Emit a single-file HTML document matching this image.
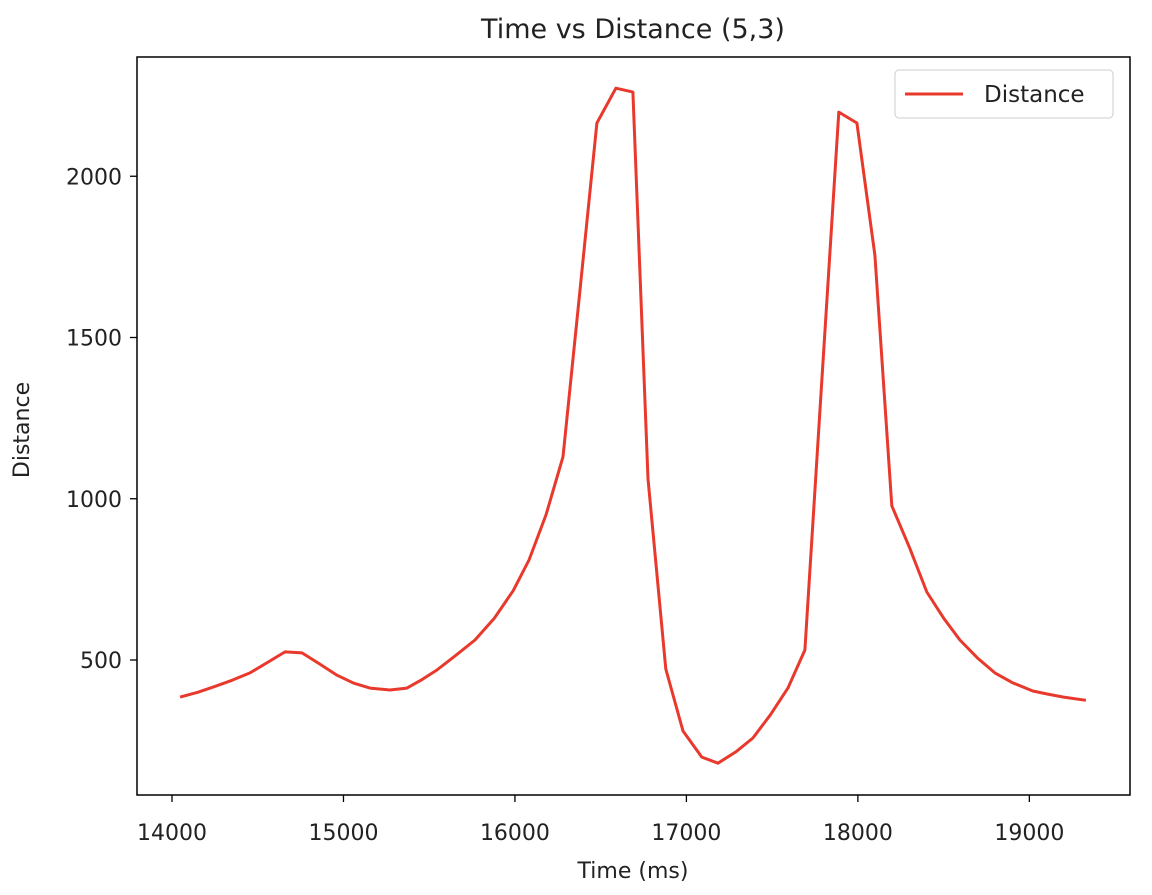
<!DOCTYPE html>
<html><head><meta charset="utf-8"><style>
body{margin:0;background:#fff;font-family:"Liberation Sans","DejaVu Sans",sans-serif;}
svg text{font-family:"DejaVu Sans","Liberation Sans",sans-serif;fill:#222;}
</style></head><body>
<svg id="chart" width="1152" height="890" xmlns="http://www.w3.org/2000/svg">
<text x="633" y="38" font-size="27" text-anchor="middle">Time vs Distance (5,3)</text>
<g id="axes"></g>
<rect x="137" y="57" width="993" height="738" fill="none" stroke="#000" stroke-width="1.5"/>
<text x="633" y="878" font-size="22" text-anchor="middle">Time (ms)</text>
<text x="29" y="430" font-size="22" text-anchor="middle" transform="rotate(-90 29 430)">Distance</text>
<g>
<rect x="895" y="70" width="218" height="48" rx="4" fill="#fff" stroke="#ccc"/>
<line x1="905" y1="94" x2="963" y2="94" stroke="#e8392c" stroke-width="3"/>
<text x="984" y="102" font-size="23">Distance</text>
</g>
</svg>
<script>
const times=[14047,14150,14250,14350,14455,14555,14659,14758,14860,14962,15060,15155,15271,15370,15460,15545,15650,15767,15880,15990,16082,16181,16280,16380,16478,16589,16688,16776,16880,16980,17090,17184,17288,17388,17490,17592,17691,17790,17889,17994,18099,18198,18300,18402,18500,18595,18700,18799,18900,19020,19100,19200,19330];
const distances=[385,400,418,437,460,492,525,522,488,453,428,413,407,413,440,469,512,562,630,715,810,950,1130,1650,2165,2273,2261,1062,472,280,199,180,215,258,330,413,531,1370,2199,2165,1755,978,850,711,630,562,505,460,430,404,395,385,375];
const xTicks=[14000,15000,16000,17000,18000,19000];
const yTicks=[500,1000,1500,2000];
const X=t=>172+(t-14000)*0.17147;
const Y=d=>660-(d-500)*0.3225;
const svg=document.getElementById('chart');const ax=document.getElementById('axes');
const NS='http://www.w3.org/2000/svg';
function mk(tag,attrs,parent){const e=document.createElementNS(NS,tag);for(const k in attrs)e.setAttribute(k,attrs[k]);parent.appendChild(e);return e;}
xTicks.forEach(v=>{
 const t=mk('line',{x1:X(v),x2:X(v),y1:795,y2:802,stroke:'#000','stroke-width':1.3},ax);
 
 
 const l=mk('text',{x:X(v),y:840,'font-size':22,'text-anchor':'middle'},ax);l.textContent=v;
 
 
});
yTicks.forEach(v=>{
 const t=mk('line',{x1:130,x2:137,y1:Y(v),y2:Y(v),stroke:'#000','stroke-width':1.3},ax);
 
 
 const l=mk('text',{x:122,y:Y(v)+8,'font-size':22,'text-anchor':'end'},ax);l.textContent=v;
 
 
});
const pts=times.map((t,i)=>X(t).toFixed(1)+','+Y(distances[i]).toFixed(1)).join(' ');
const line=mk('polyline',{points:pts,fill:'none',stroke:'#e8392c','stroke-width':3,'stroke-linejoin':'round'},svg);


</script>
</body></html>
